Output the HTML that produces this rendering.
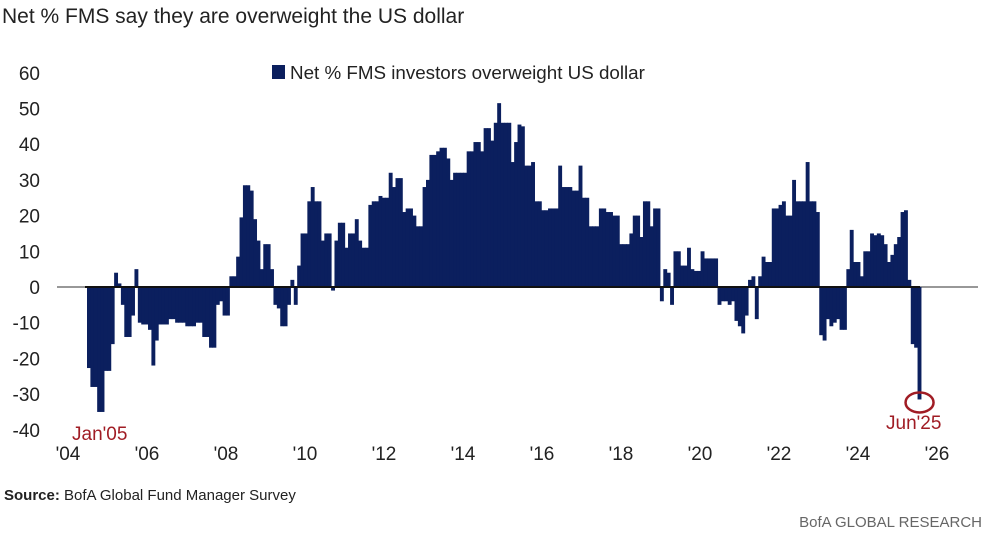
<!DOCTYPE html>
<html><head><meta charset="utf-8"><style>
body{margin:0;background:#fff;width:990px;height:533px;overflow:hidden;font-family:"Liberation Sans",sans-serif}
svg{display:block}
</style></head><body>
<svg id="chart" width="990" height="533">
<text x="2" y="23" font-size="21" fill="#222">Net % FMS say they are overweight the US dollar</text>
<g>
<rect x="272" y="65" width="13" height="14" fill="#0b1f5e"/>
<text x="290" y="79" font-size="18.8" fill="#222">Net % FMS investors overweight US dollar</text>
</g>
<g id="yaxis"></g>
<g id="xaxis"></g>
<line x1="57" y1="287" x2="978" y2="287" stroke="#777" stroke-width="1.5"/>
<g id="bars"></g>
<line x1="85" y1="287" x2="920" y2="287" stroke="#111" stroke-width="2"/>
<text x="72" y="440" font-size="19" fill="#a01c24">Jan'05</text>
<text x="886" y="429" font-size="19" fill="#a01c24">Jun'25</text>
<ellipse id="ring" cx="917" cy="396" rx="14" ry="10" fill="none" stroke="#a01c24" stroke-width="2.5"/>
<text x="4" y="500" font-size="15" fill="#222"><tspan font-weight="bold">Source:</tspan>  BofA Global Fund Manager Survey</text>
<text x="982" y="527" font-size="15" fill="#666" text-anchor="end">BofA GLOBAL RESEARCH</text>
</svg>
<script>
const yTicks=[60,50,40,30,20,10,0,-10,-20,-30,-40];
const xTickLabels=["'04","'06","'08","'10","'12","'14","'16","'18","'20","'22","'24","'26"];
const values2005_2009=[-22.7,-28,-28,-35,-35,-23.5,-23.5,-16,4,1,-5,-14,
-14,-8,5,-10,-10.5,-10.5,-12,-22,-15,-10.5,-10.5,-10.5,
-9,-9,-10,-10,-10,-11,-11,-11,-10,-10,-14,-14,
-17,-17,-5,-4,-8,-8,3,3,8.5,19.5,28.5,28.5,
27,19,13,5,12,12,5,-5,-6,-11,-11,-5];
const values2010_2014=[2,-5,6,15,15,24,28,24,24,13,15,15,
-1,13,18,18,11,15,15,19,13,11,11,23,
24,24,25.5,25,25,32,28,30.5,30.5,21,22,22,
20,17,17,28,30,37,37,38,39,39,36,30,
32,32,32,32,38,38,40.6,40.6,38,44.5,44.5,41];
const values2015_2019=[46,51.5,46,46,46,35,40.6,45.5,45,34,34,35,
24,24,21.5,21.5,22,22,22,34,28,28,28,27,
27,34,25,25,17,17,17,22,22,21,21,20,
20,12,12,12,15,20,20,14,24,24,17,22,
22,-4,5,4,-5,10,10,6,6,11,5,4.5];
const values2020_2025=[4.5,10,8,8,8,8,-5,-4,-4,-5,-4,-9.5,
-11,-13,-8,2,3,-9,3,8.5,7,7,22,22,
23,24,20,20,30,24,24,24,35,24,24,21,
-13.5,-15,-9,-11,-10,-9,-12,-12,5,16,7,7,
3,10,10,15,14.5,15,14.5,12,7,9,12,14,
21,21.5,2,-16,-17,-31.5];
const values=[].concat(values2005_2009,values2010_2014,values2015_2019,values2020_2025);
const NS="http://www.w3.org/2000/svg";
const y=v=>287-v*3.57;
const xBar=i=>87+i*3.39;
const xLab=i=>68+i*79;
const ya=document.getElementById('yaxis');
yTicks.forEach(t=>{const e=document.createElementNS(NS,'text');
e.setAttribute('x',40);e.setAttribute('y',y(t)+7);e.setAttribute('text-anchor','end');
e.setAttribute('font-size','19');e.setAttribute('fill','#222');


e.textContent=t;ya.appendChild(e);});
const xa=document.getElementById('xaxis');
xTickLabels.forEach((t,i)=>{const e=document.createElementNS(NS,'text');
e.setAttribute('x',xLab(i));e.setAttribute('y',460);e.setAttribute('text-anchor','middle');
e.setAttribute('font-size','19');e.setAttribute('fill','#222');


e.textContent=t;xa.appendChild(e);});
const g=document.getElementById('bars');
values.forEach((v,i)=>{const r=document.createElementNS(NS,'rect');
const y0=y(0),y1=y(v);
r.setAttribute('x',xBar(i));r.setAttribute('width',3.9);
r.setAttribute('y',Math.min(y0,y1));r.setAttribute('height',Math.max(0.5,Math.abs(y1-y0)));
r.setAttribute('fill','#0b1f5e');


g.appendChild(r);});
const last=values.length-1;
document.getElementById('ring').setAttribute('cx',xBar(last)+2);
document.getElementById('ring').setAttribute('cy',y(values[last])+3);
</script>
</body></html>
